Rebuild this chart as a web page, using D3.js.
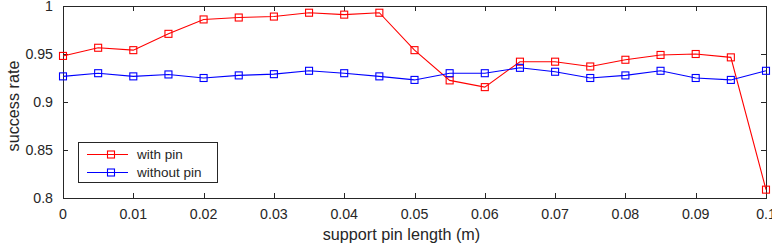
<!DOCTYPE html>
<html>
<head>
<meta charset="utf-8">
<script src="https://cdn.jsdelivr.net/npm/d3@7"></script>
<style>
  body { margin: 0; background: #fff; }
  text { font-family: "Liberation Sans", Arial, sans-serif; fill: #262626; }
</style>
</head>
<body>
<div id="chart"></div>
<script>
// data
const pinLength = [0, 0.005, 0.01, 0.015, 0.02, 0.025, 0.03, 0.035, 0.04, 0.045, 0.05,
  0.055, 0.06, 0.065, 0.07, 0.075, 0.08, 0.085, 0.09, 0.095, 0.1];
const withPin = [0.948, 0.9565, 0.954, 0.971, 0.986, 0.988, 0.989, 0.993, 0.991, 0.993, 0.954,
  0.9225, 0.9155, 0.942, 0.942, 0.937, 0.944, 0.949, 0.950, 0.9465, 0.8087];
const withoutPin = [0.9267, 0.930, 0.9267, 0.9287, 0.925, 0.9277, 0.929, 0.9325, 0.930, 0.9267, 0.923,
  0.930, 0.930, 0.9356, 0.9315, 0.925, 0.9277, 0.9325, 0.925, 0.923, 0.9325];
const xTicks = [0, 0.01, 0.02, 0.03, 0.04, 0.05, 0.06, 0.07, 0.08, 0.09, 0.1];
const yTicks = [0.8, 0.85, 0.9, 0.95, 1];

const width = 772, height = 246;
const margin = { left: 63, right: 6, top: 6, bottom: 48 };
const axisColor = "#262626";

const svg = d3.select("#chart").append("svg")
  .attr("width", width)
  .attr("height", height);

const x = d3.scaleLinear().domain([0, 0.1]).range([margin.left, width - margin.right]);
const y = d3.scaleLinear().domain([0.8, 1]).range([height - margin.bottom, margin.top]);

const tickLen = 5;
const fmt = d => d === 0 ? "0" : d === 1 ? "1" : String(+d.toFixed(3));

// ticks on all four sides, pointing inward
const g = svg.append("g").attr("stroke", axisColor).attr("stroke-width", 1);
xTicks.forEach(t => {
  const xp = Math.round(x(t)) + 0.5;
  g.append("line").attr("x1", xp).attr("x2", xp).attr("y1", y(0.8)).attr("y2", y(0.8) - tickLen);
  g.append("line").attr("x1", xp).attr("x2", xp).attr("y1", y(1)).attr("y2", y(1) + tickLen);
});
yTicks.forEach(t => {
  const yp = Math.round(y(t)) + 0.5;
  g.append("line").attr("x1", x(0)).attr("x2", x(0) + tickLen).attr("y1", yp).attr("y2", yp);
  g.append("line").attr("x1", x(0.1)).attr("x2", x(0.1) - tickLen).attr("y1", yp).attr("y2", yp);
});

// box
svg.append("rect")
  .attr("x", Math.round(x(0)) + 0.5)
  .attr("y", Math.round(y(1)) + 0.5)
  .attr("width", Math.round(x(0.1)) - Math.round(x(0)))
  .attr("height", Math.round(y(0.8)) - Math.round(y(1)))
  .attr("fill", "none")
  .attr("stroke", axisColor);

// tick labels
svg.append("g").selectAll("text")
  .data(xTicks)
  .enter().append("text")
  .attr("x", d => x(d))
  .attr("y", 218.5)
  .attr("text-anchor", "middle")
  .style("font-size", "14.2px")
  .text(fmt);

svg.append("g").selectAll("text")
  .data(yTicks)
  .enter().append("text")
  .attr("x", x(0) - 10)
  .attr("y", d => y(d))
  .attr("dy", "0.35em")
  .attr("text-anchor", "end")
  .style("font-size", "14.2px")
  .text(fmt);

// axis titles
svg.append("text")
  .attr("x", (x(0) + x(0.1)) / 2 - 13)
  .attr("y", 240)
  .attr("text-anchor", "middle")
  .style("font-size", "16.2px")
  .text("support pin length (m)");

svg.append("text")
  .attr("transform", "translate(18.5, 106) rotate(-90)")
  .attr("text-anchor", "middle")
  .style("font-size", "16.2px")
  .text("success rate");

const series = [
  { name: "with pin", values: withPin, color: "#ff0000" },
  { name: "without pin", values: withoutPin, color: "#0000ff" }
];

const line = d3.line()
  .x((d, i) => x(pinLength[i]))
  .y(d => y(d));

const ms = 7;
series.forEach(s => {
  svg.append("path")
    .datum(s.values)
    .attr("d", line)
    .attr("fill", "none")
    .attr("stroke", s.color)
    .attr("stroke-width", 1.1);

  svg.append("g").selectAll("rect")
    .data(s.values)
    .enter().append("rect")
    .attr("x", (d, i) => x(pinLength[i]) - ms / 2)
    .attr("y", d => y(d) - ms / 2)
    .attr("width", ms)
    .attr("height", ms)
    .attr("fill", "none")
    .attr("stroke", s.color)
    .attr("stroke-width", 1.1);
});

// legend
const legend = svg.append("g");
legend.append("rect")
  .attr("x", 78.5).attr("y", 142.5)
  .attr("width", 139).attr("height", 40)
  .attr("fill", "#fff")
  .attr("stroke", axisColor);

series.forEach((s, i) => {
  const ly = 154.5 + i * 18;
  legend.append("line")
    .attr("x1", 87).attr("x2", 128)
    .attr("y1", ly).attr("y2", ly)
    .attr("stroke", s.color)
    .attr("stroke-width", 1.1);
  legend.append("rect")
    .attr("x", 111 - ms / 2).attr("y", ly - ms / 2)
    .attr("width", ms).attr("height", ms)
    .attr("fill", "none")
    .attr("stroke", s.color)
    .attr("stroke-width", 1.1);
  legend.append("text")
    .attr("x", 137).attr("y", ly)
    .attr("dy", "0.35em")
    .style("font-size", "13.5px")
    .text(s.name);
});
</script>
</body>
</html>
